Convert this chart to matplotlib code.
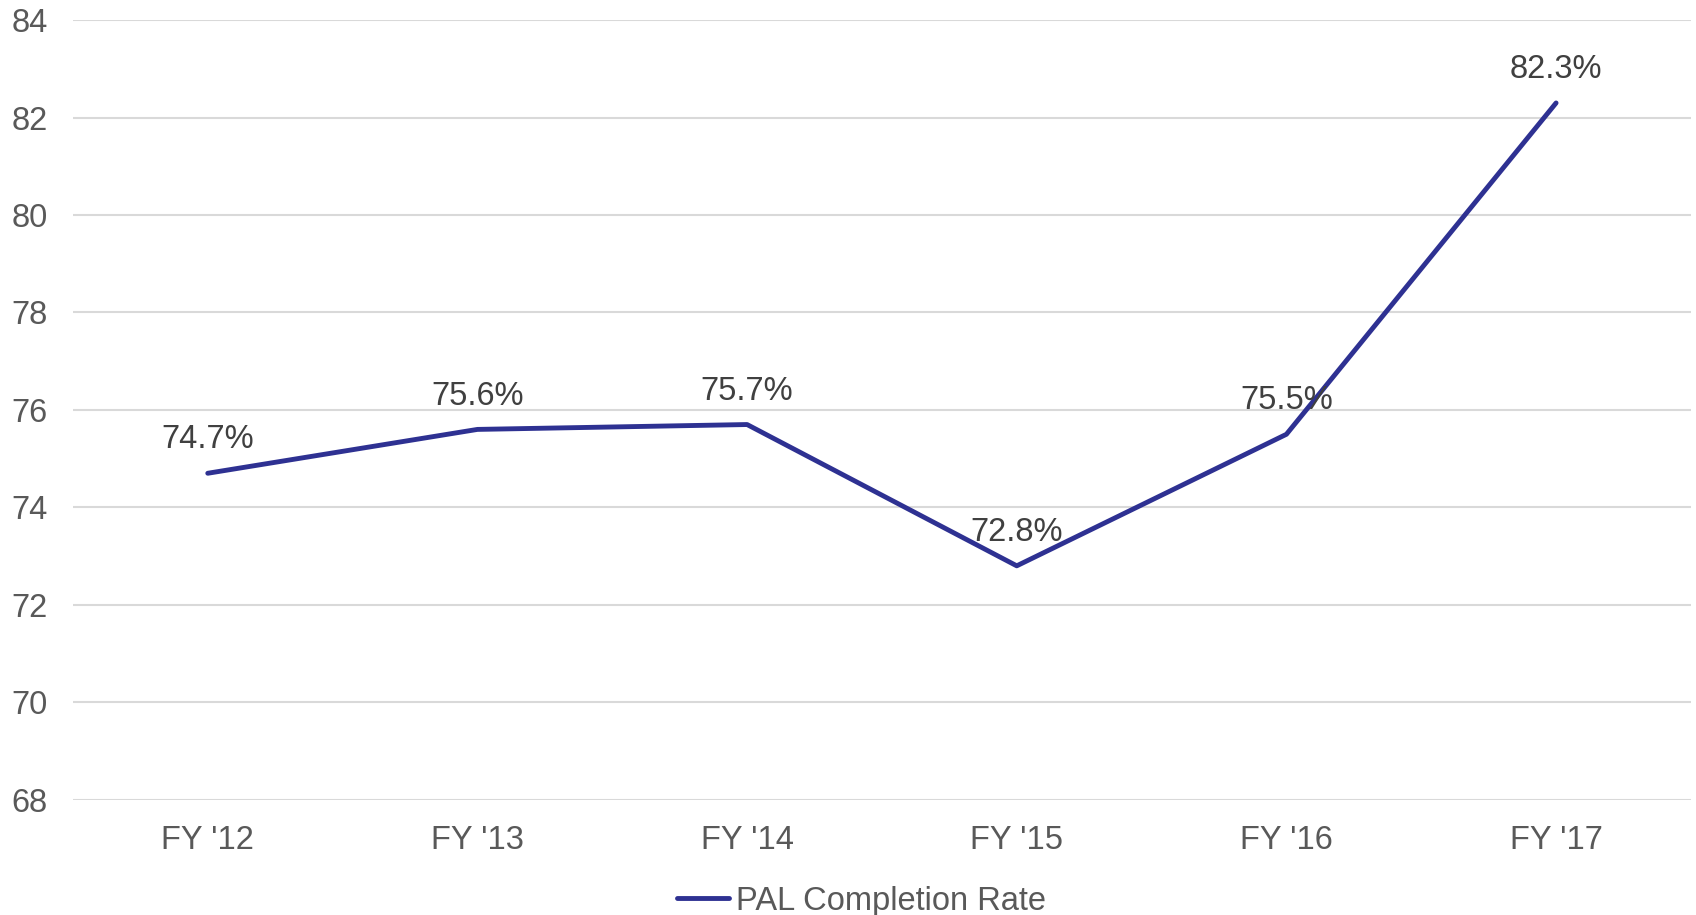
import matplotlib.pyplot as plt

plt.rcParams["font.family"] = ["Liberation Sans", "DejaVu Sans"]

years = ["FY '12", "FY '13", "FY '14", "FY '15", "FY '16", "FY '17"]
completion_rate = [74.7, 75.6, 75.7, 72.8, 75.5, 82.3]
y_ticks = [68, 70, 72, 74, 76, 78, 80, 82, 84]

line_color = "#2E3192"
text_color = "#595959"
fs = 23.5

fig = plt.figure(figsize=(16.96, 9.15), dpi=100)
ax = fig.add_axes([0.043, 0.126, 0.954, 0.852])

x = list(range(len(years)))
ax.plot(x, completion_rate, color=line_color, linewidth=3.5,
        solid_capstyle="round", label="PAL Completion Rate", zorder=3)

# data labels above each point
for xi, v in zip(x, completion_rate):
    ax.annotate(f"{v}%", (xi, v), xytext=(0, 24), textcoords="offset points",
                ha="center", va="center", fontsize=fs, color="#404040", zorder=4)

ax.set_xlim(-0.5, len(years) - 0.5)
ax.set_ylim(68, 84)
ax.set_yticks(y_ticks)
ax.set_xticks(x)
ax.set_xticklabels(years)
ax.tick_params(axis="both", length=0, labelsize=fs, labelcolor=text_color)
ax.tick_params(axis="y", pad=18)
ax.tick_params(axis="x", pad=18)
ax.grid(axis="y", color="#d9d9d9", linewidth=1.5)
ax.set_axisbelow(True)
for s in ax.spines.values():
    s.set_visible(False)

fig.legend(loc="center", bbox_to_anchor=(0.508, 0.015), frameon=False,
           fontsize=fs, labelcolor=text_color, handlelength=1.6,
           handletextpad=0.2, borderaxespad=0, borderpad=0)

plt.savefig("out.png", dpi=100)
